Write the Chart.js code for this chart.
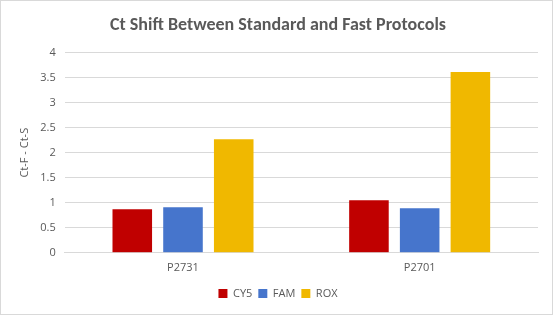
<!DOCTYPE html>
<html><head><meta charset="utf-8">
<script src="https://cdn.jsdelivr.net/npm/chart.js@4/dist/chart.umd.min.js"></script>
<style>
html,body{margin:0;padding:0;background:#fff;}
#wrap{position:absolute;left:0;top:0;width:551px;height:313px;border:1px solid #d9d9d9;}
canvas{display:block;}
</style></head>
<body>
<div id="wrap"><canvas id="c" width="551" height="313"></canvas></div>
<script>
const categories = ["P2731", "P2701"];
const seriesNames = ["CY5", "FAM", "ROX"];
const cy5 = [0.87, 1.05];
const fam = [0.91, 0.89];
const rox = [2.27, 3.61];
const colors = ["#c00000", "#4675cc", "#f0b800"];
const yTicks = [0, 0.5, 1, 1.5, 2, 2.5, 3, 3.5, 4];

const txt = "#595959";
new Chart(document.getElementById('c'), {
  type: 'bar',
  data: {
    labels: categories,
    datasets: [cy5, fam, rox].map((d, i) => ({
      label: seriesNames[i], data: d, backgroundColor: colors[i],
      categoryPercentage: 0.643, barPercentage: 0.78
    }))
  },
  options: {
    responsive: false, animation: false,
    layout: { padding: { left: 17, right: 14, top: 8, bottom: 5 } },
    plugins: {
      title: { display: true, text: "Ct Shift Between Standard and Fast Protocols",
        color: txt, font: { family: "Calibri, Carlito, 'Open Sans', sans-serif", size: 18, weight: 'bold' },
        padding: { top: 6, bottom: 16 } },
      legend: { position: 'bottom', labels: { color: txt, boxWidth: 9, boxHeight: 9, padding: 6,
        font: { family: "'Open Sans', sans-serif", size: 11 } } },
      tooltip: { enabled: false }
    },
    scales: {
      x: { grid: { display: false, drawTicks: false }, border: { color: "#d9d9d9" },
        ticks: { color: txt, padding: 8, font: { family: "'Open Sans', sans-serif", size: 11 } } },
      y: { min: 0, max: 4,
        afterBuildTicks: ax => { ax.ticks = yTicks.map(v => ({ value: v })); },
        grid: { color: "#d9d9d9", drawTicks: false }, border: { display: false },
        ticks: { color: txt, padding: 9, callback: v => String(v),
          font: { family: "'Open Sans', sans-serif", size: 11 } },
        title: { display: true, text: "Ct-F - Ct-S", color: txt, padding: { top: 0, bottom: 0 },
          font: { family: "'Open Sans', sans-serif", size: 11 } } }
    }
  }
});
</script>
</body></html>
